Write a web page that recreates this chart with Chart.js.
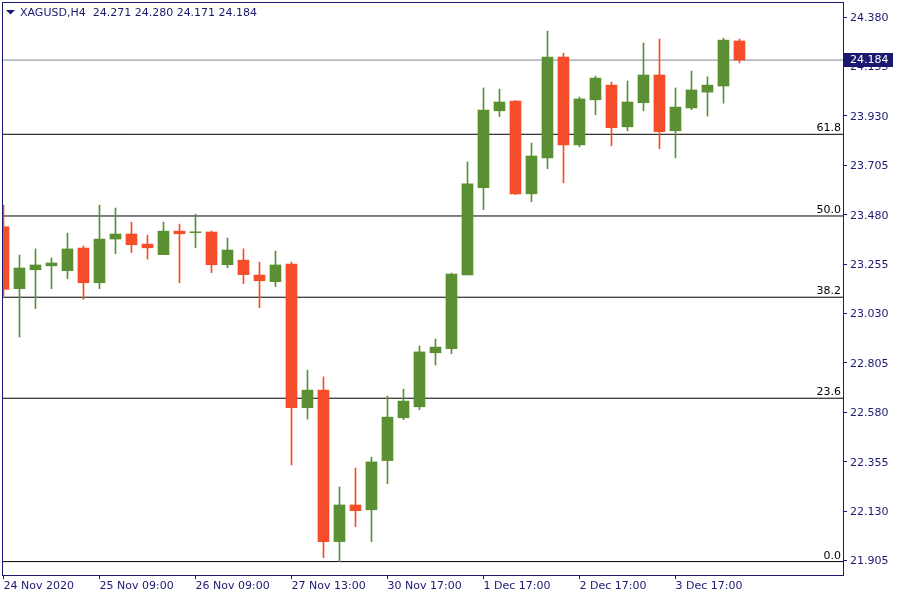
<!DOCTYPE html>
<html>
<head>
<meta charset="utf-8">
<script src="https://cdn.jsdelivr.net/npm/chart.js@4.4.0/dist/chart.umd.min.js"></script>
<style>
    html, body { margin: 0; padding: 0; background: #fff; }
</style>
</head>
<body>
<canvas id="chart" width="900" height="600"></canvas>
<script>
// XAGUSD H4 - velas (indice 0 = primera vela visible)
const opens  = [23.425, 23.143, 23.229, 23.247, 23.225, 23.328, 23.170, 23.369, 23.392, 23.346,
                23.298, 23.405, 23.398, 23.401, 23.252, 23.273, 23.205, 23.175, 23.255, 22.601,
                22.681, 21.991, 22.158, 22.136, 22.360, 22.555, 22.605, 22.851, 22.870, 23.206,
                23.603, 23.953, 23.997, 23.575, 23.739, 24.198, 23.798, 24.003, 24.070, 23.880,
                23.990, 24.116, 23.862, 23.966, 24.038, 24.066, 24.271];
const highs  = [23.524, 23.296, 23.324, 23.283, 23.396, 23.337, 23.524, 23.510, 23.446, 23.387,
                23.446, 23.437, 23.483, 23.405, 23.374, 23.324, 23.264, 23.314, 23.264, 22.772,
                22.741, 22.240, 22.326, 22.376, 22.654, 22.686, 22.882, 22.914, 23.214, 23.720,
                24.057, 24.052, 24.000, 23.806, 24.316, 24.216, 24.016, 24.111, 24.084, 24.089,
                24.262, 24.280, 24.057, 24.134, 24.108, 24.284, 24.280];
const lows   = [23.110, 22.923, 23.052, 23.143, 23.188, 23.094, 23.143, 23.302, 23.307, 23.278,
                23.298, 23.170, 23.329, 23.216, 23.238, 23.166, 23.056, 23.152, 22.340, 22.549,
                21.918, 21.900, 22.059, 21.991, 22.255, 22.546, 22.592, 22.795, 22.847, 23.206,
                23.503, 23.926, 23.571, 23.539, 23.689, 23.625, 23.789, 23.935, 23.794, 23.862,
                23.953, 23.780, 23.739, 23.958, 23.929, 23.988, 24.171];
const closes = [23.140, 23.237, 23.251, 23.260, 23.324, 23.170, 23.369, 23.392, 23.343, 23.329,
                23.405, 23.393, 23.402, 23.252, 23.319, 23.207, 23.179, 23.251, 22.601, 22.681,
                21.991, 22.158, 22.132, 22.354, 22.558, 22.631, 22.855, 22.877, 23.210, 23.620,
                23.956, 23.993, 23.575, 23.747, 24.198, 23.798, 24.007, 24.102, 23.876, 23.993,
                24.116, 23.858, 23.970, 24.048, 24.070, 24.275, 24.184];

// Etiquetas del eje de tiempo (una cada 6 velas)
const xTickLabels = ['24 Nov 2020', '25 Nov 09:00', '26 Nov 09:00', '27 Nov 13:00',
                     '30 Nov 17:00', '1 Dec 17:00', '2 Dec 17:00', '3 Dec 17:00'];
const yTicks = [21.905, 22.130, 22.355, 22.580, 22.805, 23.030, 23.255, 23.480, 23.705, 23.930, 24.155, 24.380];

// Niveles de Fibonacci
const fibLabels = ['0.0', '23.6', '38.2', '50.0', '61.8'];
const fibPrices = [21.900, 22.644, 23.104, 23.474, 23.846];

const currentPrice = 24.184;
const header = 'XAGUSD,H4  24.271 24.280 24.171 24.184';

const X_MIN = -0.03, X_MAX = 52.47;
const Y_MIN = 21.839, Y_MAX = 24.444;

const GREEN = '#5b9032';
const RED = '#f44d27';
const NAVY = '#191970';
const FONT = 'DejaVu Sans';

const candleColors = opens.map((o, i) => closes[i] >= o ? GREEN : RED);

const datasets = [
    {
        label: 'body',
        data: opens.map((o, i) => ({ x: i, y: [o, closes[i]] })),
        backgroundColor: candleColors,
        borderWidth: 0,
        barThickness: 11,
        grouped: false
    },
    {
        label: 'wick',
        data: lows.map((l, i) => ({ x: i, y: [l, highs[i]] })),
        backgroundColor: candleColors,
        borderWidth: 0,
        barThickness: 1,
        grouped: false
    },
    {
        type: 'line',
        label: 'price',
        data: [{ x: X_MIN, y: currentPrice }, { x: X_MAX, y: currentPrice }],
        borderColor: '#7d8791',
        borderWidth: 1,
        pointRadius: 0
    }
];

fibPrices.forEach((p, i) => {
    datasets.push({
        type: 'line',
        label: 'fib ' + fibLabels[i],
        data: [{ x: X_MIN, y: p }, { x: X_MAX, y: p }],
        borderColor: '#000',
        borderWidth: 1,
        pointRadius: 0
    });
});

// Marco, cabecera, etiquetas fib y precio actual
const mtPlugin = {
    id: 'mt4',
    afterDraw(chart) {
        const ctx = chart.ctx;
        const a = chart.chartArea;
        const yScale = chart.scales.y;
        ctx.save();

        // marco
        ctx.strokeStyle = NAVY;
        ctx.lineWidth = 1;
        ctx.strokeRect(2.5, 2.5, a.right - 2, a.bottom - 2);

        // etiquetas fib
        ctx.font = '11px ' + FONT;
        ctx.fillStyle = '#000';
        ctx.textAlign = 'right';
        ctx.textBaseline = 'alphabetic';
        fibPrices.forEach((p, i) => {
            const y = yScale.getPixelForValue(p);
            ctx.fillText(fibLabels[i], a.right - 2, y - 3);
        });

        // cabecera
        ctx.fillStyle = NAVY;
        ctx.beginPath();
        ctx.moveTo(6, 10);
        ctx.lineTo(15, 10);
        ctx.lineTo(10.5, 14.5);
        ctx.closePath();
        ctx.fill();
        ctx.textAlign = 'left';
        ctx.textBaseline = 'middle';
        ctx.fillText(header, 20, 13);

        // caja de precio actual
        const py = Math.round(yScale.getPixelForValue(currentPrice));
        ctx.fillStyle = NAVY;
        ctx.fillRect(a.right + 1, py - 7, 49, 14);
        ctx.fillStyle = '#fff';
        ctx.fillText(currentPrice.toFixed(3), a.right + 7, py + 0.5);

        ctx.restore();
    }
};

new Chart(document.getElementById('chart'), {
    type: 'bar',
    data: { datasets: datasets },
    plugins: [mtPlugin],
    options: {
        responsive: false,
        animation: false,
        devicePixelRatio: 1,
        layout: { padding: { top: 3, left: 3, right: 0, bottom: 0 } },
        plugins: {
            legend: { display: false },
            tooltip: { enabled: false }
        },
        scales: {
            x: {
                type: 'linear',
                min: X_MIN,
                max: X_MAX,
                offset: false,
                afterBuildTicks: scale => {
                    scale.ticks = xTickLabels.map((t, i) => ({ value: i * 6 }));
                },
                afterFit: scale => {
                    scale.height = 25;
                    scale.paddingLeft = 0;
                    scale.paddingRight = 0;
                },
                grid: { drawOnChartArea: false, offset: false, tickLength: 4, color: NAVY },
                border: { display: false },
                ticks: {
                    align: 'start',
                    maxRotation: 0,
                    autoSkip: false,
                    padding: 1,
                    color: NAVY,
                    font: { family: FONT, size: 11 },
                    callback: (value, index) => xTickLabels[index]
                }
            },
            y: {
                position: 'right',
                min: Y_MIN,
                max: Y_MAX,
                afterBuildTicks: scale => {
                    scale.ticks = yTicks.map(v => ({ value: v }));
                },
                afterFit: scale => {
                    scale.width = 57;
                    scale.paddingTop = 0;
                    scale.paddingBottom = 0;
                },
                grid: { drawOnChartArea: false, tickLength: 4, color: NAVY },
                border: { display: false },
                ticks: {
                    padding: 3,
                    labelOffset: 1,
                    color: NAVY,
                    font: { family: FONT, size: 11 },
                    callback: value => value.toFixed(3)
                }
            }
        }
    }
});
</script>
</body>
</html>
